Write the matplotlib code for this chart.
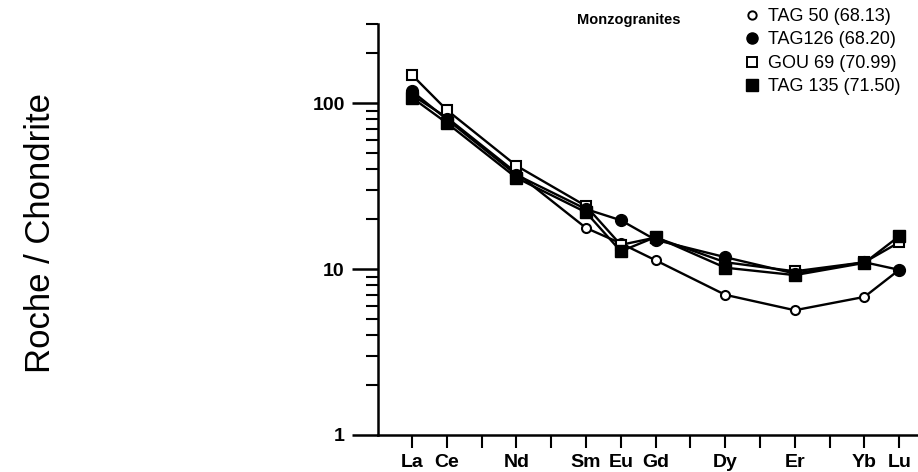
import numpy as np
import matplotlib.pyplot as plt
from matplotlib.ticker import LogLocator, NullFormatter, FixedLocator
from matplotlib.lines import Line2D

plt.rcParams['font.family'] = ['Liberation Sans', 'DejaVu Sans']

# REE sequence (chondrite normalised spider diagram)
ree = ['La', 'Ce', 'Pr', 'Nd', 'Pm', 'Sm', 'Eu', 'Gd', 'Tb', 'Dy', 'Ho', 'Er', 'Tm', 'Yb', 'Lu']
shown = ['La', 'Ce', 'Nd', 'Sm', 'Eu', 'Gd', 'Dy', 'Er', 'Yb', 'Lu']

tag50 = [112, 82, 38, 17.7, 14.3, 11.3, 7.0, 5.65, 6.8, 9.9]
tag126 = [118, 80, 37, 23, 19.7, 15.0, 11.8, 9.4, 11.0, 9.9]
gou69 = [148, 91, 42, 24, 14.0, 15.5, 11.0, 9.7, 11.0, 14.5]
tag135 = [108, 76, 35.5, 22, 12.8, 15.6, 10.2, 9.2, 10.9, 15.8]

labels = ['TAG 50 (68.13)', 'TAG126 (68.20)', 'GOU 69 (70.99)', 'TAG 135 (71.50)']

x = [ree.index(e) for e in shown]

fig = plt.figure(figsize=(9.18, 4.72), dpi=100)
ax = fig.add_axes([0.4118, 0.0784, 0.5882, 0.8706])

ax.plot(x, tag50, '-o', color='k', lw=1.7, ms=6.5, mfc='white', mec='k', mew=1.5)
ax.plot(x, gou69, '-s', color='k', lw=1.7, ms=7.5, mfc='white', mec='k', mew=1.5)
ax.plot(x, tag126, '-o', color='k', lw=1.7, ms=8.5)
ax.plot(x, tag135, '-s', color='k', lw=1.7, ms=8.5)

ax.set_yscale('log')
ax.set_ylim(1, 300)
ax.set_xlim(-0.977, 14.54)

ax.yaxis.set_major_locator(FixedLocator([1, 10, 100]))
ax.yaxis.set_minor_locator(LogLocator(base=10, subs=np.arange(2, 10)))
ax.yaxis.set_minor_formatter(NullFormatter())
ax.set_yticklabels(['1', '10', '100'])
ax.set_xticks(range(len(ree)))
ax.set_xticklabels([e if e in shown else '' for e in ree])

for s in ['top', 'right']:
    ax.spines[s].set_visible(False)
for s in ['left', 'bottom']:
    ax.spines[s].set_linewidth(1.8)

ax.tick_params(axis='y', which='major', length=19, width=1.8, labelsize=14, pad=5)
ax.tick_params(axis='y', which='minor', length=9, width=1.5)
ax.tick_params(axis='x', which='major', length=9, width=1.5, labelsize=14, pad=5)
for t in ax.get_xticklabels() + ax.get_yticklabels():
    t.set_fontweight('bold')

fig.text(0.044, 0.507, 'Roche / Chondrite', rotation=90, fontsize=25,
         ha='center', va='center')

fig.text(0.685, 0.958, 'Monzogranites', fontsize=10.5, fontweight='bold',
         ha='center', va='center')

handles = [
    Line2D([], [], ls='none', marker='o', ms=6, mfc='white', mec='k', mew=1.4),
    Line2D([], [], ls='none', marker='o', ms=8, color='k'),
    Line2D([], [], ls='none', marker='s', ms=6.5, mfc='white', mec='k', mew=1.4),
    Line2D([], [], ls='none', marker='s', ms=8, color='k'),
]
fig.legend(handles, labels, loc='upper left', bbox_to_anchor=(0.797, 1.01),
           frameon=False, fontsize=13, handlelength=0.8, handletextpad=0.5,
           labelspacing=0.36, borderpad=0.2)

plt.savefig('out.png', dpi=100)
